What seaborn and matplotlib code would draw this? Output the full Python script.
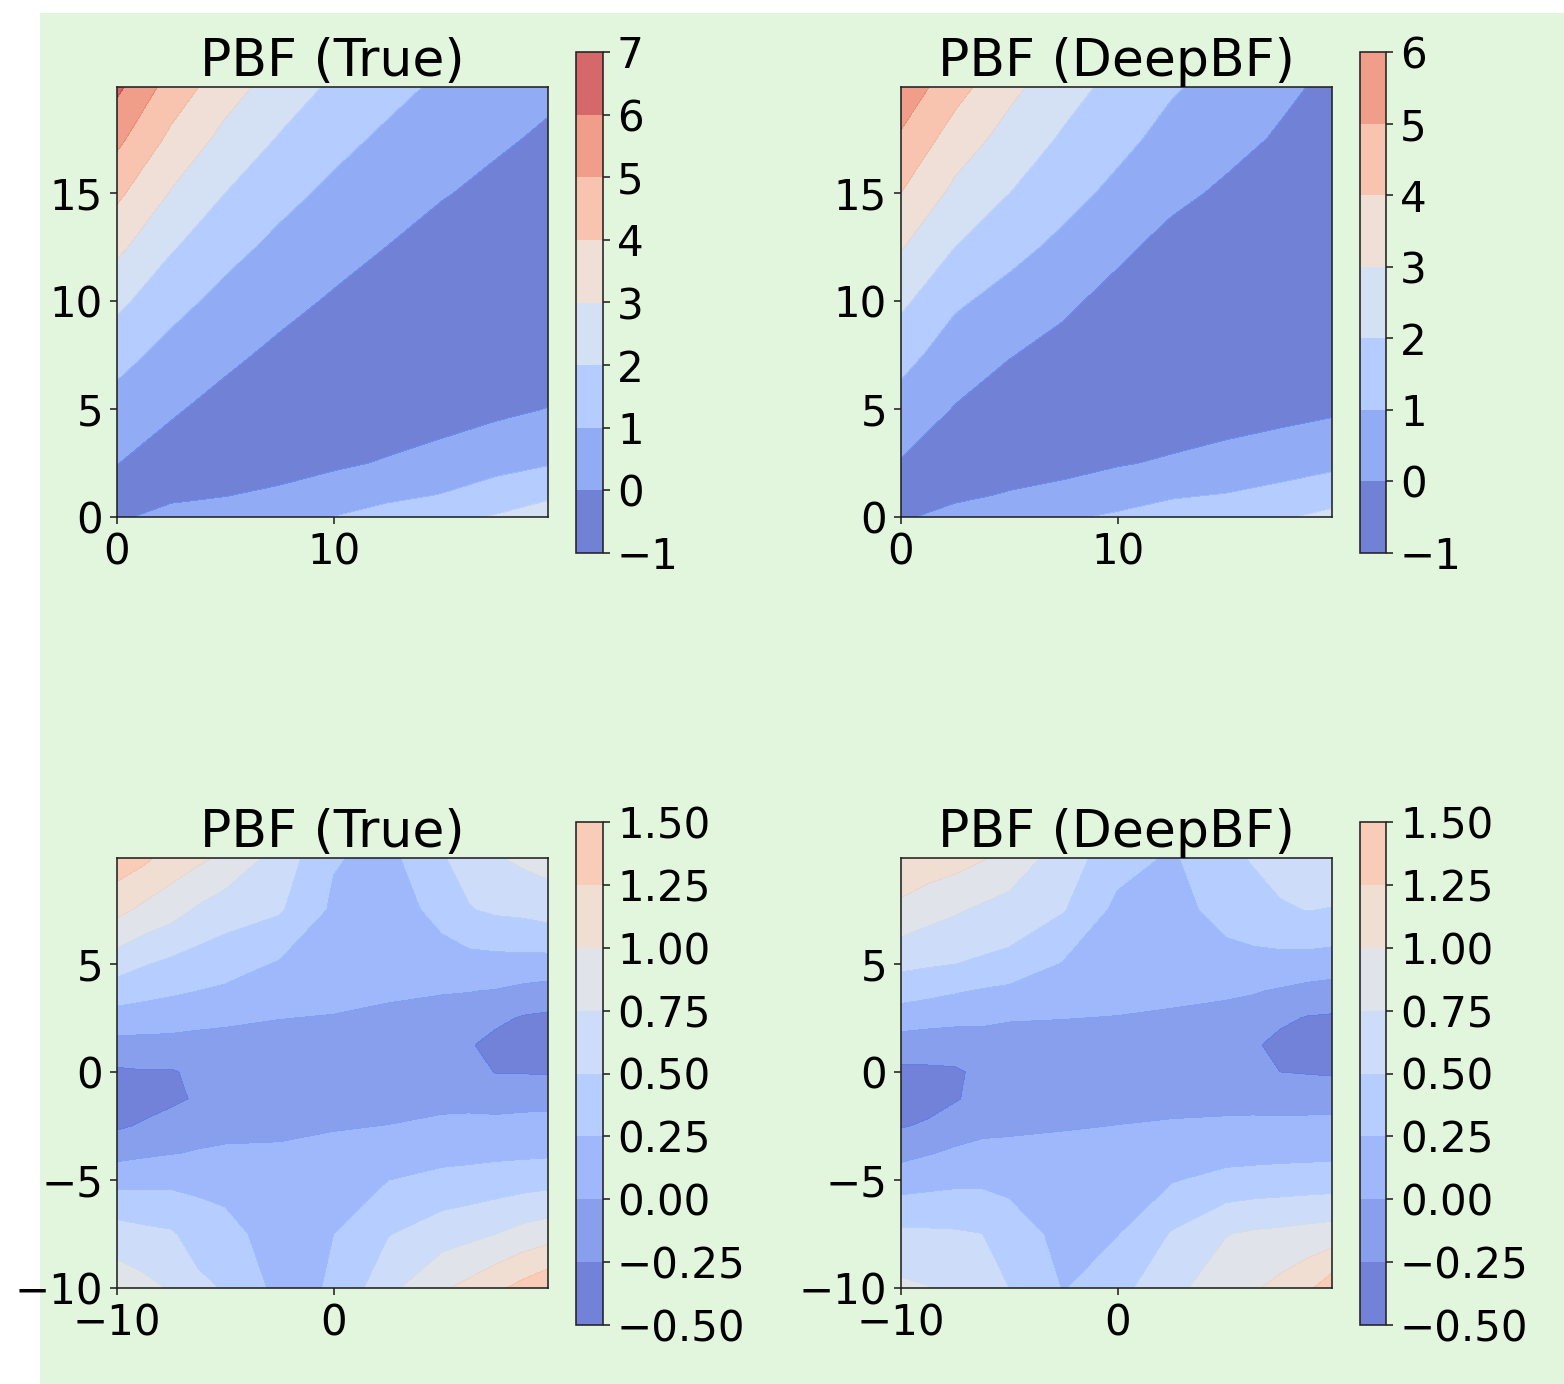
import numpy as np
import matplotlib
matplotlib.use("Agg")
import matplotlib.pyplot as plt
from matplotlib.colors import Normalize
from matplotlib.patches import Rectangle
import seaborn as sns

# ---------------- data ----------------
top_x = [0, 2.5, 5, 7.5, 10, 12.5, 15, 17.5, 19.9]
top_y = [0, 1, 2.5, 5, 7.5, 10, 12.5, 15, 17.5, 19.9]

# PBF (True), top row; one list per y value (ascending)
pbf_true_top = [
    [-0.15, 0.35, 0.50, 0.78, 1.02, 1.38, 1.73, 2.08, 2.80],
    [-0.20, -0.20, -0.03, 0.23, 0.40, 0.80, 1.04, 1.44, 1.76],
    [0.02, -0.40, -0.45, -0.50, -0.13, 0.07, 0.42, 0.69, 0.93],
    [0.625, 0.11, -0.30, -0.55, -0.55, -0.50, -0.50, -0.20, 0.02],
    [1.34, 0.68, 0.20, -0.20, -0.50, -0.60, -0.65, -0.60, -0.50],
    [2.24, 1.33, 0.72, 0.28, -0.10, -0.45, -0.60, -0.70, -0.70],
    [3.23, 2.10, 1.32, 0.76, 0.35, -0.01, -0.40, -0.55, -0.65],
    [4.21, 2.94, 2.00, 1.31, 0.79, 0.40, 0.07, -0.25, -0.45],
    [5.24, 3.78, 2.72, 1.93, 1.30, 0.82, 0.46, 0.15, -0.15],
    [6.20, 4.59, 3.43, 2.54, 1.84, 1.30, 0.83, 0.50, 0.21],
]

# PBF (DeepBF), top row
pbf_deep_top = [
    [-0.10, 0.27, 0.57, 0.87, 1.14, 1.38, 1.63, 1.87, 2.30],
    [-0.25, -0.15, 0.07, 0.30, 0.60, 0.92, 1.05, 1.30, 1.55],
    [-0.05, -0.40, -0.40, -0.32, -0.08, 0.12, 0.30, 0.55, 0.80],
    [0.60, -0.05, -0.45, -0.55, -0.55, -0.60, -0.40, -0.30, -0.15],
    [1.34, 0.52, 0.04, -0.30, -0.60, -0.70, -0.70, -0.65, -0.60],
    [2.21, 1.15, 0.66, 0.18, -0.30, -0.60, -0.70, -0.75, -0.75],
    [3.07, 2.00, 1.31, 0.77, 0.20, -0.30, -0.55, -0.70, -0.75],
    [4.00, 2.76, 2.01, 1.34, 0.77, 0.23, -0.15, -0.45, -0.60],
    [4.86, 3.55, 2.63, 1.88, 1.27, 0.69, 0.30, -0.10, -0.35],
    [5.70, 4.37, 3.26, 2.39, 1.70, 1.10, 0.67, 0.20, -0.20],
]

bot_x = [-10, -8.75, -7.5, -6.25, -5, -2.5, 0, 2.5, 5, 6.25, 7.5, 8.75, 9.9]
bot_y = [-10, -7.5, -5, -3.75, -2.5, -1.25, 0, 1.25, 2.5, 3.75, 5, 7.5, 9.9]

# PBF (True), bottom row
pbf_true_bot = [
    [0.90, 0.82, 0.73, 0.56, 0.48, 0.18, 0.27, 0.68, 0.97, 1.07, 1.20, 1.33, 1.45],
    [0.62, 0.566, 0.53, 0.393, 0.34, 0.127, 0.25, 0.487, 0.638, 0.688, 0.75, 0.837, 0.89],
    [0.17, 0.18, 0.19, 0.185, 0.16, 0.053, 0.115, 0.248, 0.318, 0.338, 0.366, 0.39, 0.413],
    [-0.08, -0.04, -0.01, 0.015, 0.03, 0.017, 0.048, 0.124, 0.173, 0.184, 0.197, 0.206, 0.214],
    [-0.28, -0.225, -0.14, -0.085, -0.06, -0.024, -0.012, 0.003, 0.042, 0.054, 0.066, 0.079, 0.087],
    [-0.40, -0.33, -0.30, -0.22, -0.145, -0.067, -0.05, -0.06, -0.055, -0.058, -0.088, -0.077, -0.07],
    [-0.285, -0.264, -0.27, -0.20, -0.105, -0.10, -0.08, -0.12, -0.135, -0.158, -0.26, -0.263, -0.27],
    [-0.08, -0.078, -0.077, -0.068, -0.05, -0.045, -0.04, -0.07, -0.18, -0.23, -0.32, -0.35, -0.40],
    [0.15, 0.13, 0.105, 0.057, 0.027, 0.003, -0.007, -0.022, -0.085, -0.099, -0.20, -0.27, -0.295],
    [0.38, 0.33, 0.29, 0.25, 0.215, 0.115, 0.045, 0.018, 0.015, 0.006, -0.01, -0.06, -0.092],
    [0.62, 0.517, 0.45, 0.39, 0.35, 0.23, 0.10, 0.051, 0.143, 0.159, 0.166, 0.167, 0.16],
    [1.07, 0.945, 0.85, 0.715, 0.62, 0.53, 0.21, 0.117, 0.337, 0.486, 0.54, 0.561, 0.61],
    [1.40, 1.30, 1.15, 1.05, 0.95, 0.65, 0.27, 0.18, 0.48, 0.60, 0.73, 0.80, 0.85],
]

# PBF (DeepBF), bottom row
pbf_deep_bot = [
    [0.80, 0.76, 0.68, 0.585, 0.50, 0.24, 0.42, 0.69, 0.88, 0.97, 1.07, 1.20, 1.40],
    [0.554, 0.542, 0.53, 0.503, 0.36, 0.19, 0.243, 0.52, 0.741, 0.785, 0.805, 0.836, 0.864],
    [0.135, 0.169, 0.197, 0.202, 0.194, 0.09, 0.123, 0.234, 0.326, 0.345, 0.36, 0.37, 0.378],
    [-0.073, -0.015, 0.035, 0.06, 0.07, 0.04, 0.063, 0.126, 0.162, 0.171, 0.18, 0.187, 0.193],
    [-0.265, -0.222, -0.107, -0.053, -0.045, -0.009, 0.002, 0.017, 0.035, 0.044, 0.054, 0.063, 0.069],
    [-0.375, -0.326, -0.27, -0.17, -0.147, -0.055, -0.039, -0.046, -0.058, -0.064, -0.09, -0.093, -0.094],
    [-0.302, -0.29, -0.28, -0.20, -0.16, -0.10, -0.08, -0.10, -0.137, -0.16, -0.25, -0.264, -0.278],
    [-0.124, -0.134, -0.124, -0.074, -0.077, -0.05, -0.042, -0.058, -0.18, -0.22, -0.31, -0.35, -0.38],
    [0.13, 0.094, 0.062, 0.036, 0.014, 0.003, -0.004, -0.016, -0.074, -0.095, -0.206, -0.263, -0.276],
    [0.355, 0.32, 0.274, 0.23, 0.195, 0.116, 0.043, 0.029, 0.04, 0.016, -0.022, -0.074, -0.106],
    [0.56, 0.53, 0.502, 0.462, 0.427, 0.235, 0.092, 0.076, 0.173, 0.174, 0.172, 0.16, 0.14],
    [0.94, 0.845, 0.78, 0.71, 0.66, 0.517, 0.19, 0.171, 0.33, 0.405, 0.466, 0.507, 0.488],
    [1.20, 1.15, 1.10, 1.02, 0.91, 0.63, 0.35, 0.22, 0.44, 0.52, 0.62, 0.66, 0.70],
]

levels_true_top = [-1, 0, 1, 2, 3, 4, 5, 6, 7]
levels_deep_top = [-1, 0, 1, 2, 3, 4, 5, 6]
levels_bot = [-0.5, -0.25, 0.0, 0.25, 0.5, 0.75, 1.0, 1.25, 1.5]

titles = ["PBF (True)", "PBF (DeepBF)", "PBF (True)", "PBF (DeepBF)"]
top_xticks = [0, 10]
top_yticks = [0, 5, 10, 15]
bot_xticks = [-10, 0]
bot_yticks = [-10, -5, 0, 5]

# ---------------- style ----------------
sns.set_style("ticks")
plt.rcParams.update({
    "font.family": ["DejaVu Sans"],
    "axes.edgecolor": "#222222",
    "axes.linewidth": 0.8,
    "xtick.major.size": 3.5,
    "ytick.major.size": 3.5,
    "xtick.major.width": 0.8,
    "ytick.major.width": 0.8,
    "xtick.color": "#222222",
    "ytick.color": "#222222",
    "xtick.labelcolor": "black",
    "ytick.labelcolor": "black",
    "text.color": "black",
})

cmap = sns.color_palette("coolwarm", as_cmap=True)

W, H = 1564, 1384
DPI = 144
fig = plt.figure(figsize=(W / DPI, H / DPI), dpi=DPI, facecolor="white")
fig.add_artist(Rectangle((40 / W, 0), 1 - 40 / W, 1 - 13 / H, transform=fig.transFigure,
                         facecolor="#e2f5dd", edgecolor="none", zorder=-10))


def px_rect(l, t, r, b):
    return [l / W, 1 - b / H, (r - l) / W, (b - t) / H]


panels = [
    dict(x=top_x, y=top_y, z=pbf_true_top, levels=levels_true_top, norm=Normalize(-0.7, 6.9),
         ax=px_rect(117, 87, 548, 517), cax=px_rect(576, 52, 603, 553),
         xt=top_xticks, yt=top_yticks, title=titles[0]),
    dict(x=top_x, y=top_y, z=pbf_deep_top, levels=levels_deep_top, norm=Normalize(-0.7, 6.9),
         ax=px_rect(901, 87, 1332, 517), cax=px_rect(1360, 52, 1386, 553),
         xt=top_xticks, yt=top_yticks, title=titles[1]),
    dict(x=bot_x, y=bot_y, z=pbf_true_bot, levels=levels_bot, norm=Normalize(-0.46, 2.35),
         ax=px_rect(117, 858, 548, 1288), cax=px_rect(576, 822, 603, 1325),
         xt=bot_xticks, yt=bot_yticks, title=titles[2]),
    dict(x=bot_x, y=bot_y, z=pbf_deep_bot, levels=levels_bot, norm=Normalize(-0.46, 2.35),
         ax=px_rect(901, 858, 1332, 1288), cax=px_rect(1360, 822, 1386, 1325),
         xt=bot_xticks, yt=bot_yticks, title=titles[3]),
]

for p in panels:
    ax = fig.add_axes(p["ax"])
    cax = fig.add_axes(p["cax"])
    X, Y = np.meshgrid(np.array(p["x"]), np.array(p["y"]))
    Z = np.array(p["z"])
    cs = ax.contourf(X, Y, Z, levels=p["levels"], cmap=cmap, norm=p["norm"], alpha=0.75)
    ax.set_xlim(p["x"][0], p["x"][-1])
    ax.set_ylim(p["y"][0], p["y"][-1])
    ax.set_xticks(p["xt"])
    ax.set_yticks(p["yt"])
    ax.tick_params(labelsize=21)
    ax.set_title(p["title"], fontsize=26, pad=5)
    cb = fig.colorbar(cs, cax=cax, ticks=p["levels"])
    cb.ax.tick_params(labelsize=21)
    cb.outline.set_linewidth(0.8)

fig.savefig("out.png", dpi=DPI, facecolor="white")
